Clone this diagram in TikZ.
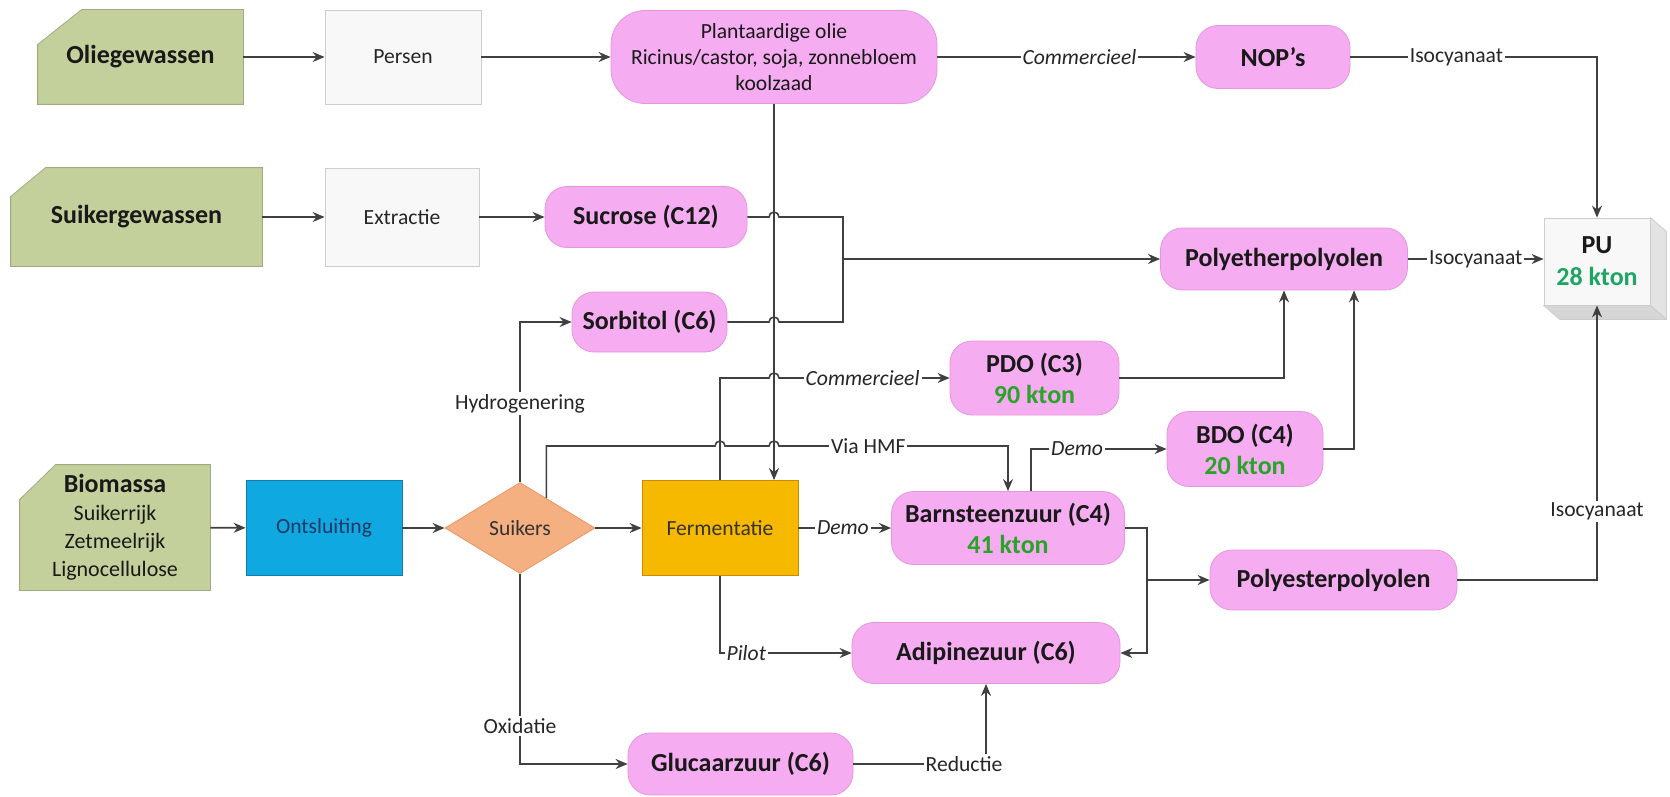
\documentclass[tikz,border=0pt]{standalone}
\usepackage{fontspec}
\setmainfont{Carlito}
\usetikzlibrary{shapes.geometric,arrows.meta,calc,backgrounds}
\definecolor{cropgreen}{RGB}{196,208,155}
\definecolor{cropedge}{RGB}{160,170,130}
\definecolor{procwhite}{RGB}{248,248,248}
\definecolor{procedge}{RGB}{205,205,205}
\definecolor{prodpink}{RGB}{245,172,240}
\definecolor{prodedge}{RGB}{228,150,222}
\definecolor{ontsblue}{RGB}{16,168,224}
\definecolor{ontsedge}{RGB}{20,125,175}
\definecolor{ontstext}{RGB}{31,56,100}
\definecolor{suikorange}{RGB}{245,176,130}
\definecolor{suikedge}{RGB}{228,150,105}
\definecolor{fermgold}{RGB}{247,184,0}
\definecolor{fermedge}{RGB}{200,140,0}
\definecolor{ktongreen}{RGB}{40,165,40}
\definecolor{pugreen}{RGB}{30,165,100}
\definecolor{linegray}{RGB}{64,64,64}
\newcommand{\biosub}[1]{{\mdseries\fontsize{11}{13}\selectfont #1}}
\begin{document}
\begin{tikzpicture}[x=0.5pt,y=-0.5pt,>={Stealth[length=6pt,width=5pt]},
  conn/.style={draw=linegray,line width=0.8pt},
  lbl/.style={fill=white,inner sep=1pt,text=black!85,font=\fontsize{10.8}{13}\selectfont},
  ilbl/.style={lbl,font=\fontsize{10.8}{13}\selectfont\itshape},
  crop/.style={rectangle,text=black!90,align=center,font=\fontsize{13}{14}\selectfont\bfseries},
  cropbg/.style={fill=cropgreen,draw=cropedge},
  proc/.style={rectangle,fill=procwhite,draw=procedge,text=black!85,font=\fontsize{10.8}{13}\selectfont},
  prod/.style={rectangle,rounded corners=11pt,fill=prodpink,draw=prodedge,text=black!90,align=center,font=\fontsize{13}{15.5}\selectfont\bfseries}]
\useasboundingbox (0,0) rectangle (1670,797);
\node[crop,minimum width=102.5pt,minimum height=47pt] (olie) at (140.5,57) {Oliegewassen};
\node[proc,minimum width=78pt,minimum height=47pt] (persen) at (403,57) {Persen};
\node[prod,rounded corners=17pt,font=\fontsize{10.8}{13}\selectfont,minimum width=163pt,minimum height=46.5pt] (plant) at (774,57) {Plantaardige olie\\Ricinus/castor, soja, zonnebloem\\koolzaad};
\node[prod,minimum width=77pt,minimum height=31.5pt] (nop) at (1273,57) {NOP’s};
\node[crop,minimum width=125.5pt,minimum height=49pt] (suiker) at (136.5,217) {Suikergewassen};
\node[proc,minimum width=77pt,minimum height=49pt] (extr) at (402,217) {Extractie};
\node[prod,minimum width=101pt,minimum height=30.5pt] (sucr) at (646,217) {Sucrose (C12)};
\node[prod,minimum width=77.5pt,minimum height=30pt] (sorb) at (649.5,322) {Sorbitol (C6)};
\node[prod,minimum width=123.5pt,minimum height=31pt] (pether) at (1284,259) {Polyetherpolyolen};
\node[rectangle,fill=procwhite,draw=procedge,align=center,text=black!90,font=\fontsize{13}{16}\selectfont\bfseries,minimum width=53pt,minimum height=43.5pt] (pu) at (1597,261.5) {PU\\\textcolor{pugreen}{28 kton}};
\node[prod,minimum width=84.5pt,minimum height=37pt] (pdo) at (1034.5,378) {PDO (C3)\\\textcolor{ktongreen}{90 kton}};
\node[prod,minimum width=78pt,minimum height=37.5pt] (bdo) at (1245,449) {BDO (C4)\\\textcolor{ktongreen}{20 kton}};
\node[crop,inner sep=0pt,minimum width=95pt,minimum height=62.5pt] (bio) at (115,527.5) {Biomassa\\\biosub{Suikerrijk}\\\biosub{Zetmeelrijk}\\\biosub{Lignocellulose}};
\node[rectangle,fill=ontsblue,draw=ontsedge,text=ontstext,font=\fontsize{10.8}{13}\selectfont,minimum width=78pt,minimum height=47.5pt] (onts) at (324,528) {Ontsluiting};
\node[diamond,aspect=1.65,inner sep=0pt,fill=suikorange,draw=suikedge,text=black!80,font=\fontsize{10.8}{13}\selectfont,minimum width=75pt,minimum height=45.5pt] (suikers) at (520,528) {Suikers};
\node[rectangle,fill=fermgold,draw=fermedge,text=black!80,font=\fontsize{10.8}{13}\selectfont,minimum width=78pt,minimum height=47.5pt] (ferm) at (720,528) {Fermentatie};
\node[prod,minimum width=116.5pt,minimum height=36.5pt] (barn) at (1008,528) {Barnsteenzuur (C4)\\\textcolor{ktongreen}{41 kton}};
\node[prod,minimum width=123.5pt,minimum height=30pt] (pester) at (1333.5,580) {Polyesterpolyolen};
\node[prod,minimum width=134pt,minimum height=30.5pt] (adip) at (986,653) {Adipinezuur (C6)};
\node[prod,minimum width=112.5pt,minimum height=31pt] (gluc) at (740.5,764) {Glucaarzuur (C6)};
\begin{scope}[on background layer]
\foreach \n/\cx/\cy in {olie/22pt/17.5pt,suiker/17.5pt/14.5pt,bio/18pt/17.5pt}
  \filldraw[cropbg] ([yshift=-\cy]\n.north west) -- ([xshift=\cx]\n.north west) -- (\n.north east) -- (\n.south east) -- (\n.south west) -- cycle;
\end{scope}
\filldraw[fill=gray!22,draw=procedge] (pu.north east) -- ++(8pt,-7pt) -- ([xshift=8pt,yshift=-7pt]pu.south east) -- (pu.south east) -- cycle;
\filldraw[fill=gray!32,draw=procedge] (pu.south west) -- ++(8pt,-7pt) -- ([xshift=8pt,yshift=-7pt]pu.south east) -- (pu.south east) -- cycle;
\draw[conn,->] (olie) -- (persen);
\draw[conn,->] (persen) -- (plant);
\draw[conn,->] (plant) -- node[ilbl,pos=0.55]{Commercieel} (nop);
\draw[conn,->] (nop.east) -- node[lbl,pos=0.43]{Isocyanaat} (nop.east -| pu.north) -- (pu.north);
\draw[conn,->] (suiker) -- (extr);
\draw[conn,->] (extr) -- (sucr);
\draw[conn] (sucr.east) -- (769,217) arc(180:360:5) -- (843,217) -- (843,322) -- (779,322) arc(360:180:5) -- (sorb.east);
\draw[conn,->] (843,259) -- (pether.west);
\draw[conn,->] (plant.south) -- (plant.south |- ferm.north);
\draw[conn,->] (suikers.north) |- node[lbl,pos=0.245]{Hydrogenering} (sorb.west);
\draw[conn,->] ($(suikers.north)!0.35!(suikers.east)$) |- (715,446) arc(180:360:5) -- (769,446) arc(180:360:5) -- node[lbl,pos=0.39]{Via HMF} (1008,446) -- (barn.north);
\draw[conn,->] (ferm.north) |- (769,378) arc(180:360:5) -- node[ilbl,pos=0.49]{Commercieel} (pdo.west);
\draw[conn,->] (ferm) -- node[ilbl,pos=0.48]{Demo} (barn);
\draw[conn,->] ([xshift=11.5pt]barn.north) |- node[ilbl,pos=0.67]{Demo} (bdo.west);
\draw[conn,->] (pdo.east) -| (pether.south);
\draw[conn,->] (bdo.east) -| ([xshift=35pt]pether.south);
\draw[conn,->] (pether.east) -- node[lbl]{Isocyanaat} (pether.east -| pu.west);
\draw[conn,->] (barn.east) -- (1147,528) -- (1147,653) -- (adip.east);
\draw[conn,->] (1147,580) -- (pester.west);
\draw[conn,->] (pester.east) -| node[lbl,pos=0.625]{Isocyanaat} (pu.south);
\draw[conn,->] (ferm.south) |- node[ilbl,pos=0.6]{Pilot} (adip.west);
\draw[conn,->] (suikers.south) |- node[lbl,pos=0.4]{Oxidatie} (gluc.west);
\draw[conn,->] (gluc.east) -| node[lbl,pos=0.5,xshift=-11pt]{Reductie} (adip.south);
\draw[conn,->] (bio) -- (onts);
\draw[conn,->] (onts) -- (suikers);
\draw[conn,->] (suikers) -- (ferm);
\end{tikzpicture}
\end{document}
